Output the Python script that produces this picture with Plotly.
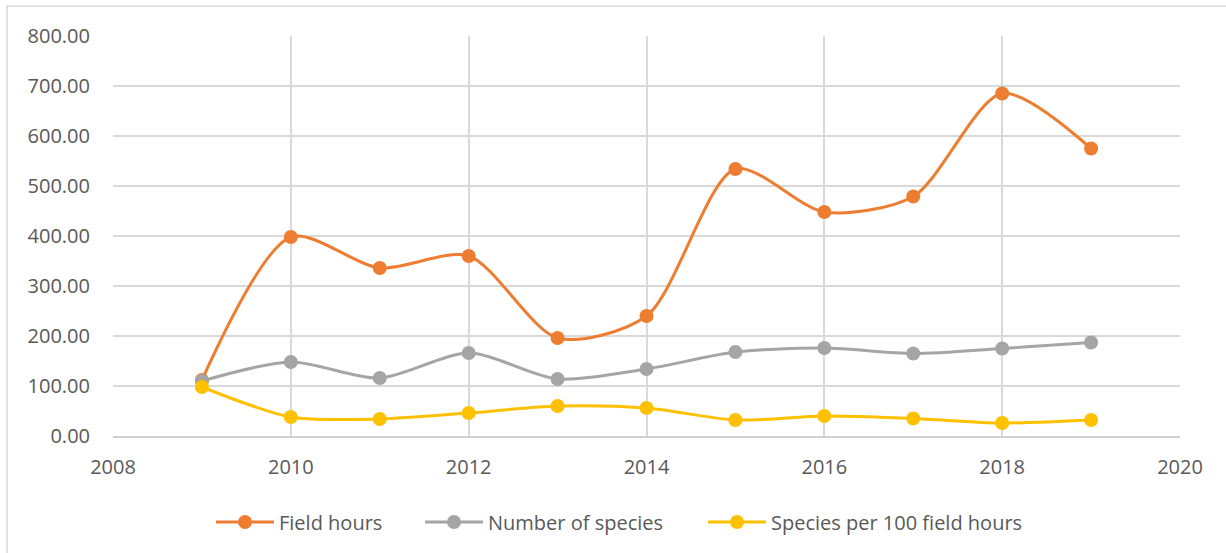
import plotly.graph_objects as go

years = [2009, 2010, 2011, 2012, 2013, 2014, 2015, 2016, 2017, 2018, 2019]
field_hours = [112, 398, 336, 360, 196, 240, 534, 448, 479, 685, 575]
num_species = [110, 148, 116, 166, 114, 134, 168, 176, 165, 175, 187]
species_per_100 = [98, 38, 34, 46, 60, 56, 32, 40, 35, 26, 32]

series = [
    ("Field hours", field_hours, "#ED7D31", "legend", 211),
    ("Number of species", num_species, "#A5A5A5", "legend2", 420),
    ("Species per 100 field hours", species_per_100, "#FFC000", "legend3", 703),
]

PL, PW = 113, 1067

fig = go.Figure()
legends = {}
for name, vals, col, lg, px in series:
    fig.add_trace(go.Scatter(
        x=years, y=vals, name=name, mode="lines+markers", legend=lg,
        line=dict(color=col, width=3, shape="spline", smoothing=0.8),
        marker=dict(color=col, size=14),
    ))
    legends[lg] = dict(orientation="h", x=(px - PL) / PW, xanchor="left",
                       y=-0.215, yanchor="middle", itemwidth=58,
                       font=dict(size=20, color="#595959"),
                       bgcolor="rgba(0,0,0,0)")

font_family = "Open Sans, Liberation Sans, sans-serif"
fig.update_layout(
    width=1226, height=553,
    margin=dict(l=113, r=46, t=36, b=117),
    paper_bgcolor="white", plot_bgcolor="white",
    font=dict(family=font_family, size=20, color="#595959"),
    showlegend=True,
    xaxis=dict(range=[2008, 2020], tickmode="linear", tick0=2008, dtick=2,
               showgrid=True, gridcolor="#d9d9d9", gridwidth=1.5,
               zeroline=False, showline=True, linecolor="#d0d0d0", linewidth=1.5,
               ticks="", ticklabelstandoff=12, mirror=False),
    yaxis=dict(range=[0, 800], tickmode="linear", tick0=0, dtick=100,
               tickformat=".2f", showgrid=True, gridcolor="#d9d9d9", gridwidth=1.5,
               zeroline=False, showline=False, ticks="", ticklabelstandoff=22),
    shapes=[dict(type="rect", xref="paper", yref="paper",
                 x0=(7 - PL) / PW, x1=(1240 - PL) / PW,
                 y0=(436 - 570) / 400, y1=(436 - 6) / 400,
                 line=dict(color="#d9d9d9", width=1.5), fillcolor="rgba(0,0,0,0)",
                 layer="below")],
    **legends,
)

fig.write_html("out.html", config={"displayModeBar": False},
               post_script="document.body.style.margin='0';document.body.style.overflow='hidden';")
